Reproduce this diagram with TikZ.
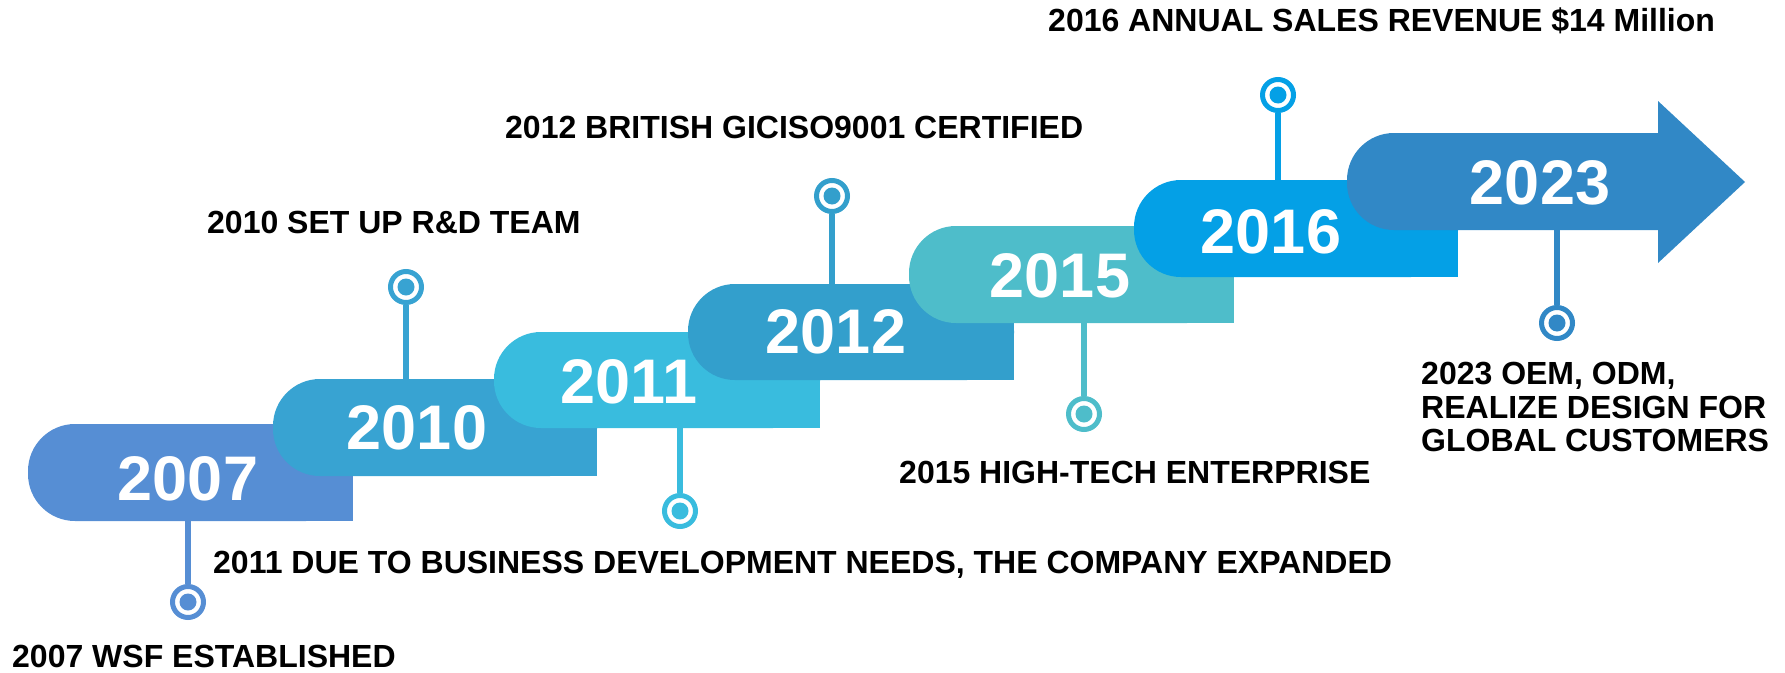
\documentclass[tikz,border=0pt]{standalone}
\usepackage{fontspec}
\setmainfont{Liberation Sans}
\definecolor{c07}{RGB}{86,142,212}
\definecolor{c10}{RGB}{56,163,210}
\definecolor{c11}{RGB}{57,188,222}
\definecolor{c12}{RGB}{51,159,204}
\definecolor{c15}{RGB}{78,189,202}
\definecolor{c16}{RGB}{4,160,230}
\definecolor{c23}{RGB}{49,136,198}
\begin{document}
\begin{tikzpicture}[x=1pt,y=-1pt,
  year/.style={text=white,inner sep=0,anchor=base,font=\bfseries\fontsize{63}{63}\selectfont},
  note/.style={inner sep=0,anchor=base west,font=\bfseries\fontsize{32}{33.5}\selectfont},
  stem/.style={line width=6,draw=#1},
  dot/.style={circle,draw=#1,line width=5,fill=white,inner sep=0,minimum size=31,
    path picture={\fill[#1] (path picture bounding box.center) circle (8.5);}}]

\useasboundingbox (0,0) rectangle (1785,672);

\fill[c07,rounded corners=47] (28,424) rectangle (353,521);
\fill[c07] (200,424) rectangle (353,521);
\node[year] (y07) at (188,500) {2007};

\fill[c10,rounded corners=47] (273,379) rectangle (597,476);
\fill[c10] (420,379) rectangle (597,476);
\node[year] (y10) at (417,449) {2010};

\fill[c11,rounded corners=47] (494,332) rectangle (820,428);
\fill[c11] (640,332) rectangle (820,428);
\node[year] (y11) at (629,403) {2011};

\fill[c12,rounded corners=47] (688,284) rectangle (1014,380);
\fill[c12] (840,284) rectangle (1014,380);
\node[year] (y12) at (836,353) {2012};

\fill[c15,rounded corners=47] (909,226) rectangle (1234,323);
\fill[c15] (1060,226) rectangle (1234,323);
\node[year] (y15) at (1060,297) {2015};

\fill[c16,rounded corners=47] (1134,180) rectangle (1458,277);
\fill[c16] (1280,180) rectangle (1458,277);
\node[year] (y16) at (1271,253) {2016};

\fill[c23,rounded corners=47] (1347,133) rectangle (1500,230);
\fill[c23] (1450,133) -- (1658,133) -- (1658,101) -- (1745,182)
  -- (1658,263) -- (1658,230) -- (1450,230) -- cycle;
\node[year] (y23) at (1540,204) {2023};

\coordinate (e07) at (188,521);
\coordinate (e10) at (406,379);
\coordinate (e11) at (680,428);
\coordinate (e12) at (832,284);
\coordinate (e15) at (1084,323);
\coordinate (e16) at (1278,180);
\coordinate (e23) at (1557,230);

\node[dot=c07] (d07) at (188,602) {};
\node[dot=c10] (d10) at (406,287) {};
\node[dot=c11] (d11) at (680,511) {};
\node[dot=c12] (d12) at (832,196) {};
\node[dot=c15] (d15) at (1084,414) {};
\node[dot=c16] (d16) at (1278,95) {};
\node[dot=c23] (d23) at (1557,323) {};

\draw[stem=c07] (e07) -- (d07);
\draw[stem=c10] (e10) -- (d10);
\draw[stem=c11] (e11) -- (d11);
\draw[stem=c12] (e12) -- (d12);
\draw[stem=c15] (e15) -- (d15);
\draw[stem=c16] (e16) -- (d16);
\draw[stem=c23] (e23) -- (d23);

\node[note] (t07) at (12,667) {2007 WSF ESTABLISHED};
\node[note] (t10) at (207,233) {2010 SET UP R\&D TEAM};
\node[note] (t11) at (213,573) {2011 DUE TO BUSINESS DEVELOPMENT NEEDS, THE COMPANY EXPANDED};
\node[note] (t12) at (505,138) {2012 BRITISH GICISO9001 CERTIFIED};
\node[note] (t15) at (899,483) {2015 HIGH-TECH ENTERPRISE};
\node[note] (t16) at (1048,31) {2016 ANNUAL SALES REVENUE \$14 Million};
\node[note,anchor=north west,align=left] (t23) at (1421,362)
  {2023 OEM, ODM,\\REALIZE DESIGN FOR\\GLOBAL CUSTOMERS};
\end{tikzpicture}
\end{document}
